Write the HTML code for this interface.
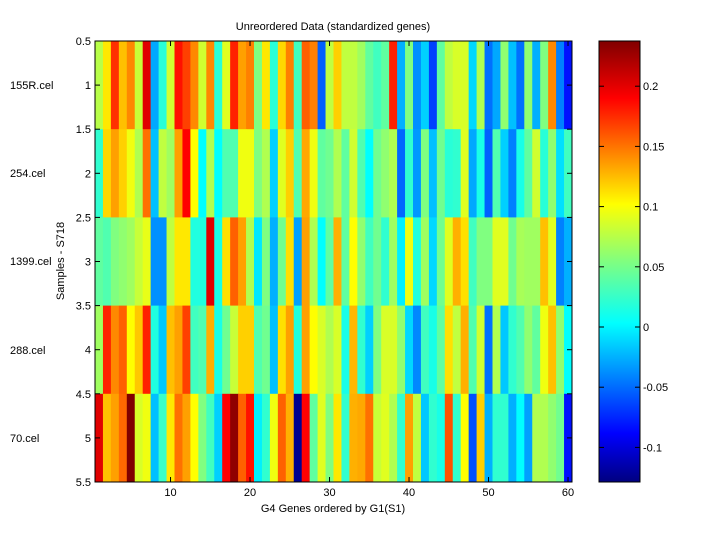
<!DOCTYPE html><html><head><style>body{margin:0;background:#fff}svg{display:block}text{font-family:"Liberation Sans",sans-serif;font-size:11px;fill:#000}</style></head><body>
<svg id="s" width="720" height="540" xmlns="http://www.w3.org/2000/svg">
<g id="hm"></g>
<defs><linearGradient id="jet" x1="0" y1="1" x2="0" y2="0">
<stop offset="0" stop-color="#000080"/><stop offset="0.11" stop-color="#0000ff"/><stop offset="0.36" stop-color="#00ffff"/><stop offset="0.5" stop-color="#80ff80"/><stop offset="0.63" stop-color="#ffff00"/><stop offset="0.87" stop-color="#ff0000"/><stop offset="1" stop-color="#800000"/></linearGradient></defs>
<rect x="599" y="41" width="41" height="441" fill="url(#jet)" stroke="#000"/>
<rect x="95" y="41" width="477" height="441" fill="none" stroke="#000"/>
<g id="tk" stroke="#000"></g>
<g id="tx"></g>
<text x="333" y="30" text-anchor="middle">Unreordered Data (standardized genes)</text>
<text x="333" y="512" text-anchor="middle">G4 Genes ordered by G1(S1)</text>
<text transform="translate(64,261) rotate(-90)" text-anchor="middle">Samples - S718</text>
<text x="10" y="89">155R.cel</text><text x="10" y="177">254.cel</text><text x="10" y="265">1399.cel</text><text x="10" y="354">288.cel</text><text x="10" y="442">70.cel</text>
</svg>
<script>
var R=[
"b8ff48 ffe800 ff3000 ffc000 ff8800 c8ff38 e00000 00a8ff 28ffd8 d0ff30 ff1000 ff4000 ff8800 d0ff30 ff8800 28ffd8 e0ff20 ff2000 ffa000 ff8000 80ff80 ffe800 28ffd8 ffd800 ff8000 40ffc0 ff6000 ff8000 0060ff c0ff40 ffd000 c0ff40 c0ff40 a0ff60 60ffa0 40ffc0 60ffa0 ff2000 00b0ff 80ff80 0090ff 00d0ff 0040ff 60ffa0 c0ff40 d8ff28 d8ff28 00d8ff b0ff50 0070ff 00a8ff 90ff70 00c0ff 0070ff 90ff70 00b0ff 80ff80 ff8800 0080ff 0010ff",
"30ffd0 ffd800 ffa000 ffd000 f0ff10 b0ff50 ff7000 00c0ff c0ff40 a0ff60 ffa000 ff0000 ffff00 00ffff b0ff50 00ffff 50ffb0 50ffb0 f0ff10 f0ff10 80ff80 b0ff50 00d0ff e0ff20 ffd000 50ffb0 ffa800 f0ff10 60ffa0 70ff90 b0ff50 60ffa0 d0ff30 50ffb0 00ffff 70ff90 90ff70 b0ff50 0068ff 30ffd0 0098ff 80ff80 00c0ff 70ff90 28ffd8 30ffd0 e0ff20 00a8ff 18ffe8 0060ff 50ffb0 00d0ff 0080ff 18ffe8 60ffa0 d0ff30 28ffd8 90ff70 00e0ff 40ffc0",
"60ffa0 50ffb0 80ff80 90ff70 a0ff60 c8ff38 e8ff18 0090ff 0090ff c0ff40 ffe800 ffe800 20ffe0 20ffe0 e00000 18ffe8 ffe000 ff6000 ffa000 b0ff50 00e8ff 80ff80 00b0ff 70ff90 ffe000 00a0ff ffa000 b0ff50 00ffff 60ffa0 ffb000 60ffa0 ffff00 90ff70 40ffc0 70ff90 30ffd0 a0ff60 00f0ff f0ff10 20ffe0 a0ff60 00d8ff 70ff90 e0ff20 ffb000 ffe000 40ffc0 80ff80 80ff80 e0ff20 e0ff20 70ff90 a8ff58 a0ff60 a0ff60 ffc000 e0ff20 0080ff 00b0ff",
"a0ff60 ff2000 ff8800 ff6000 ffff00 ffc800 ff2000 20ffe0 00c8ff ffc000 ffa000 ff4000 40ffc0 50ffb0 ffb000 18ffe8 70ff90 c8ff38 ffd000 ffd000 50ffb0 70ff90 00c0ff ffe000 ffa000 20ffe0 ffa000 ffff00 d8ff28 b0ff50 d8ff28 18ffe8 ffb800 30ffd0 00d0ff 80ff80 d8ff28 d8ff28 90ff70 00d8ff 0088ff 40ffc0 18ffe8 60ffa0 ffe000 c0ff40 ffb000 50ffb0 d0ff30 0070ff b0ff50 00c8ff 30ffd0 50ffb0 90ff70 60ffa0 f0ff10 ffc000 90ff70 00ffff",
"e00000 ffc000 ffa000 ff6800 800000 d8ff28 f0ff10 00c0ff 38ffc8 ffe800 ff7000 ffa000 ffff00 80ff80 40ffc0 00d0ff ff0000 900000 ff6000 ff1000 00f0ff 30ffd0 f0ff10 ff6000 ffb000 000090 ff0000 60ffa0 e0ff20 80ff80 ffe800 30ffd0 ffb000 ffa800 ff7000 c8ff38 e0ff20 b0ff50 30ffd0 ffa000 c0ff40 00c8ff 30ffd0 18ffe8 ff5000 30ffd0 ffff00 0050ff ffd000 00b0ff 30ffd0 30ffd0 00b0ff 00ffff 00a0ff b0ff50 b0ff50 90ff70 70ff90 0010ff"];
var N="http://www.w3.org/2000/svg",h="",cw=477/60,rh=441/5;
R.forEach(function(r,i){r.split(" ").forEach(function(c,j){h+='<rect x="'+(95+j*cw)+'" y="'+(41+i*rh)+'" width="'+(cw+0.4)+'" height="'+(rh+0.4)+'" fill="#'+c+'"/>';});});
document.getElementById("hm").innerHTML=h;
var t="",x="";
for(var v=10;v<=60;v+=10){var px=95+(v-0.5)*cw;t+='<line x1="'+px+'" y1="482" x2="'+px+'" y2="477"/><line x1="'+px+'" y1="41" x2="'+px+'" y2="46"/>';x+='<text x="'+px+'" y="496" text-anchor="middle">'+v+'</text>';}
for(var k=0;k<=10;k++){var py=41+k*rh/2;t+='<line x1="95" y1="'+py+'" x2="100" y2="'+py+'"/><line x1="572" y1="'+py+'" x2="567" y2="'+py+'"/>';x+='<text x="91" y="'+(py+4)+'" text-anchor="end">'+(0.5+k*0.5)+'</text>';}
[0.2,0.15,0.1,0.05,0,-0.05,-0.1].forEach(function(v){var py=327-v/0.05*60.2;t+='<line x1="640" y1="'+py+'" x2="635" y2="'+py+'"/><line x1="599" y1="'+py+'" x2="604" y2="'+py+'"/>';x+='<text x="643" y="'+(py+4)+'">'+v+'</text>';});
document.getElementById("tk").innerHTML=t;document.getElementById("tx").innerHTML=x;
</script></body></html>
